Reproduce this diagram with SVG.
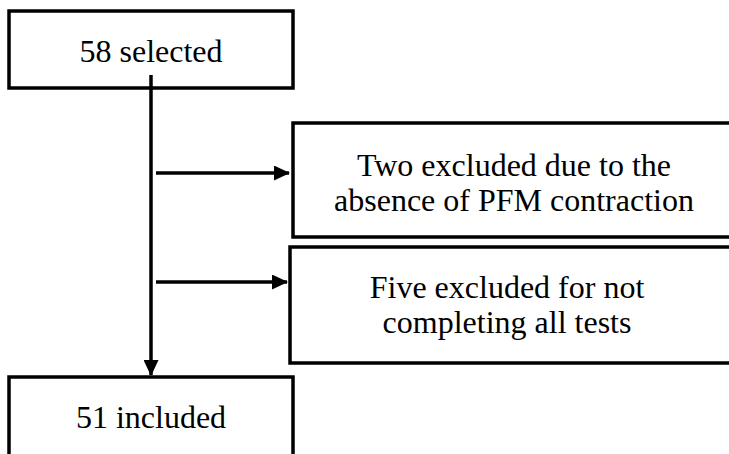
<svg xmlns="http://www.w3.org/2000/svg" width="729" height="454" viewBox="0 0 729 454">
  <defs>
    <!-- solid triangular arrowheads, sized in user units -->
    <marker id="arrow" markerWidth="16" markerHeight="15" refX="15" refY="7.5" orient="auto" markerUnits="userSpaceOnUse">
      <path d="M0,0 L16,7.5 L0,15 Z" fill="#000"/>
    </marker>
  </defs>
  <style>
    .box { fill: #fff; stroke: #000; stroke-width: 3.5; }
    .lbl { font-family: "Liberation Serif", "Times New Roman", serif; font-size: 32px; fill: #000; text-anchor: middle; }
    .conn { stroke: #000; stroke-width: 3.5; fill: none; }
  </style>
  <rect width="729" height="454" fill="#fff"/>

  <g id="selected">
    <rect class="box" x="9" y="11" width="284" height="77"/>
    <text class="lbl" x="151" y="62">58 selected</text>
  </g>

  <g id="excluded-pfm">
    <rect class="box" x="293" y="123" width="450" height="114"/>
    <text class="lbl" x="514" y="176">Two excluded due to the</text>
    <text class="lbl" x="514" y="211">absence of PFM contraction</text>
  </g>

  <g id="excluded-tests">
    <rect class="box" x="290" y="247" width="450" height="116"/>
    <text class="lbl" x="507" y="298">Five excluded for not</text>
    <text class="lbl" x="507" y="333">completing all tests</text>
  </g>

  <g id="included">
    <rect class="box" x="9" y="377" width="284" height="100"/>
    <text class="lbl" x="151" y="428">51 included</text>
  </g>

  <g id="connectors">
    <line class="conn" x1="151" y1="75" x2="151" y2="375" marker-end="url(#arrow)"/>
    <line class="conn" x1="156" y1="173" x2="289" y2="173" marker-end="url(#arrow)"/>
    <line class="conn" x1="156" y1="282" x2="287" y2="282" marker-end="url(#arrow)"/>
  </g>
</svg>
